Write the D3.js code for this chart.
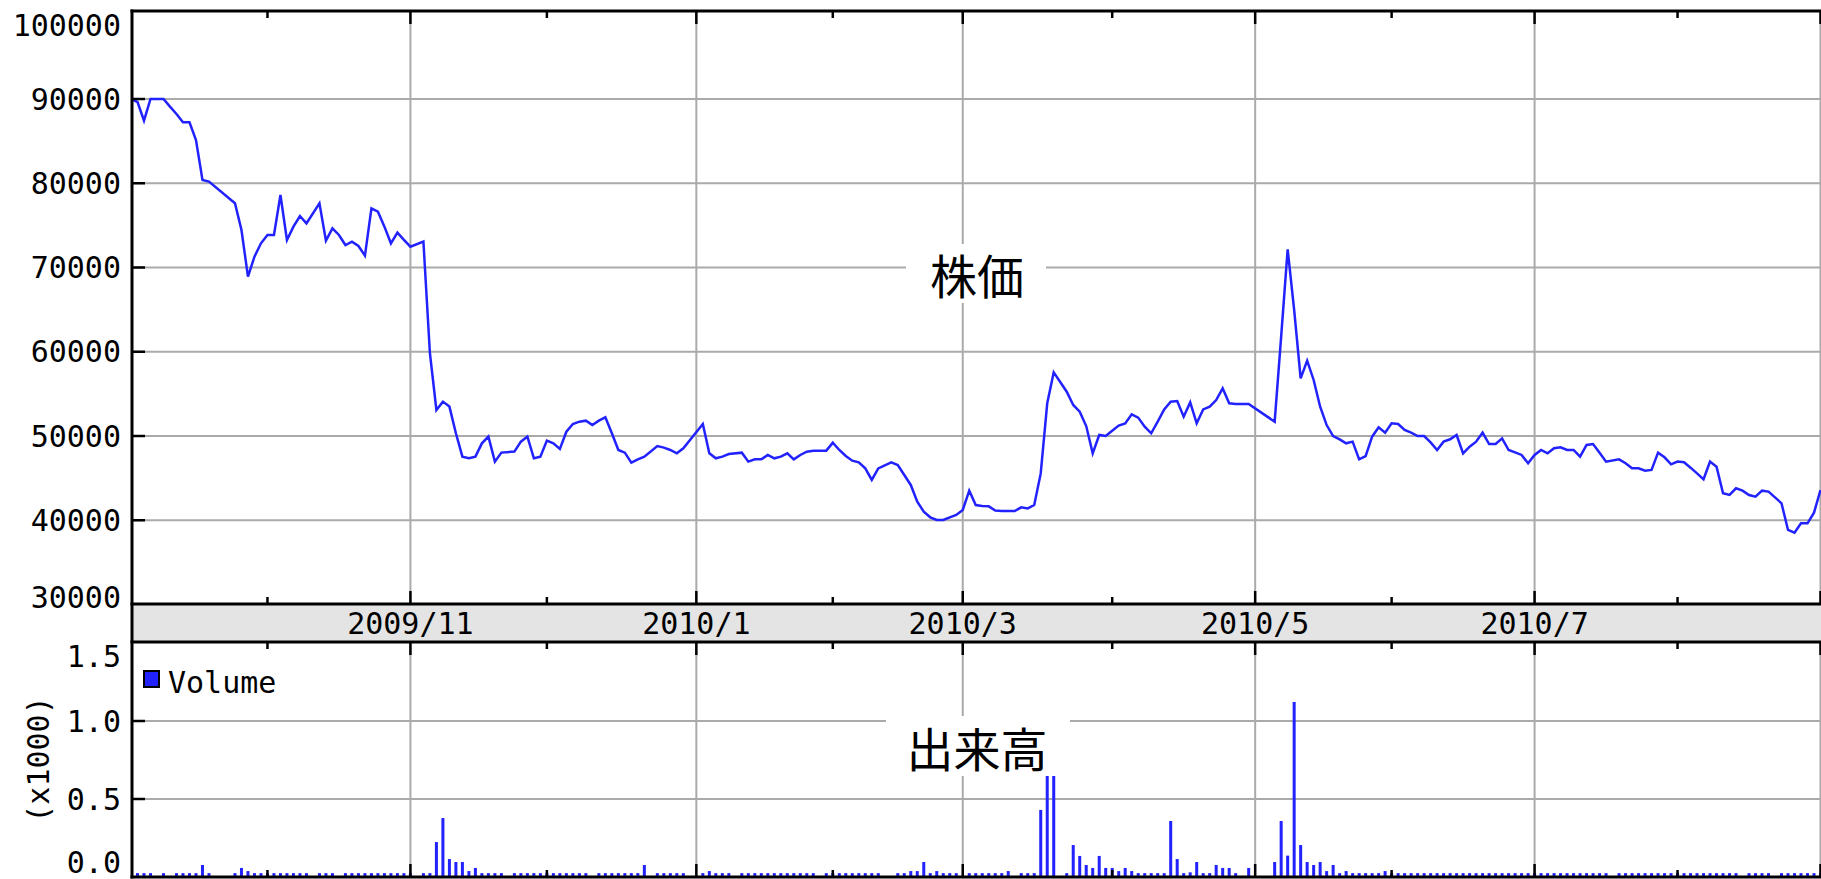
<!DOCTYPE html>
<html>
<head>
<meta charset="utf-8">
<script src="https://cdn.jsdelivr.net/npm/d3@7"></script>
<style>
  html, body { margin: 0; padding: 0; background: #fff; overflow: hidden; }
  svg { display: block; }
</style>
</head>
<body>
<div id="chart"></div>
<script>
// Trading calendar: weekdays from startDate to endDate, minus exchange holidays
const startDate = "2009-09-02";
const endDate = "2010-09-01";
const holidays = [
    "2009-09-21", "2009-09-22", "2009-09-23", "2009-10-12", "2009-11-03",
    "2009-11-23", "2009-12-23", "2009-12-31", "2010-01-01", "2010-01-11",
    "2010-02-11", "2010-03-22", "2010-04-29", "2010-05-03", "2010-05-04",
    "2010-05-05", "2010-07-19"
];

// Closing price per trading day (one row per week)
const priceValues = [
    90000, 89640, 87430,
    90000, 90000, 90000, 89090, 88220,
    87230, 87230, 85130, 80390, 80190,
    77620, 74450,
    68910, 71290, 72870, 73860, 73860,
    78610, 73270, 74850, 76110, 75240,
    77620, 73190, 74650, 73860,
    72670, 73070, 72550, 71410, 77020,
    76630, 74850, 72870, 74140, 73270,
    72470, 73070, 59820, 53090,
    54080, 53490, 50320, 47550, 47360,
    47550, 49130, 49930, 46960, 48030,
    48150, 49330, 49930, 47360,
    47550, 49450, 49130, 48460, 50510,
    51420, 51700, 51820, 51300, 51820,
    52220, 50320, 48340, 48020, 46840,
    47230, 47550, 48810, 48620,
    48340, 47940, 48540,
    51420, 47940, 47350, 47550, 47860,
    48020, 46960, 47230, 47230,
    47750, 47350, 47550, 47940, 47230,
    47750, 48140, 48260, 48260, 48260,
    49210, 48340, 47630, 47070, 46880,
    46160, 44780, 46160, 46880,
    46560, 45370, 44190, 42210, 41020,
    40350, 40030, 40030, 40350, 40630,
    41220, 43510, 41810, 41690, 41650,
    41150, 41100, 41100, 41100, 41530,
    41410, 41810, 45560, 53880, 57560,
    55260, 53680, 52890, 51180,
    47940, 50120, 50000, 50630, 51230,
    51500, 52570, 52180, 51110, 50320,
    51700, 53160, 54070, 54150, 52290,
    53990, 51500, 53160, 53480, 54270,
    55660, 53880, 53800, 53800,
    51700, 61790,
    72160, 64960, 56840, 58940, 56650,
    53480, 51300, 49990, 49600, 49130,
    49330, 47230, 47620, 49920, 51030,
    50390, 51500, 51420, 50710, 50390,
    50000, 50000, 49250, 48340, 49330,
    49610, 50120, 47940, 48730, 49330,
    50400, 49050, 49050, 49720, 48340,
    48060, 47750, 46760, 47750, 48340,
    47940, 48540, 48660, 48340, 48340,
    47550, 48930, 49050, 48020, 46950,
    47230, 46760, 46160, 46160,
    45890, 45970, 48020, 47470, 46640,
    46960, 46880, 46240, 45570, 44860,
    46960, 46360, 43200, 43000, 43790,
    43510, 43000, 42800, 43510, 43400,
    42720, 42010, 38850, 38530, 39640,
    39640, 40900, 43590
];

// Volume (shares) per trading day, same layout as priceValues
const volumeValues = [
    25, 25, 25,
    25, 0, 25, 0, 25,
    25, 25, 25, 77, 25,
    25, 58,
    38, 25, 25, 25, 25,
    25, 25, 25, 25, 25,
    25, 25, 25, 0,
    25, 25, 25, 25, 25,
    25, 25, 25, 25, 25,
    25, 25, 25, 224,
    378, 115, 96, 96, 38,
    58, 25, 25, 25, 25,
    25, 25, 25, 25,
    25, 25, 25, 25, 25,
    25, 25, 25, 0, 25,
    25, 25, 25, 25, 25,
    25, 77, 25, 25,
    25, 25, 25,
    25, 38, 25, 25, 25,
    25, 25, 25, 25,
    25, 25, 25, 25, 25,
    25, 25, 25, 0, 25,
    25, 25, 25, 25, 25,
    25, 25, 25, 0,
    25, 25, 38, 38, 96,
    25, 38, 25, 25, 25,
    0, 25, 25, 25, 25,
    25, 25, 38, 0, 25,
    25, 25, 430, 700, 720,
    25, 205, 135, 77,
    58, 135, 58, 58, 38,
    58, 38, 25, 25, 25,
    25, 25, 359, 115, 25,
    30, 96, 25, 25, 77,
    58, 58, 25, 58,
    96, 359,
    137, 1122, 205, 96, 77,
    96, 38, 77, 25, 38,
    25, 25, 25, 25, 25,
    38, 25, 25, 25, 25,
    25, 25, 25, 25, 25,
    25, 25, 25, 25, 25,
    25, 25, 25, 25, 25,
    25, 25, 25, 25, 25,
    25, 25, 25, 25, 25,
    25, 25, 25, 25, 25,
    25, 25, 25, 25,
    25, 25, 25, 25, 25,
    25, 25, 25, 25, 25,
    25, 25, 25, 25, 25,
    0, 25, 25, 25, 25,
    0, 25, 25, 25, 25,
    25, 25, 25
];

const priceTicks = [30000, 40000, 50000, 60000, 70000, 80000, 90000, 100000];
const priceGrid = [40000, 50000, 60000, 70000, 80000, 90000];
const volumeTicks = [0, 500, 1000, 1500];
const volumeGrid = [500, 1000];
const minorMonths = ["2009-10-01", "2009-12-01", "2010-02-01", "2010-04-01", "2010-06-01", "2010-08-01"];
const majorMonths = ["2009-11-01", "2010-01-01", "2010-03-01", "2010-05-01", "2010-07-01", "2010-09-01"];
const majorLabels = ["2009/11", "2010/1", "2010/3", "2010/5", "2010/7", ""];

// Layout
const W = 1821, H = 879;
const left = 132, right = 1821;
const priceTop = 11, priceBottom = 604;
const volTop = 642, volBottom = 877;
const blue = "#2222ff", grid = "#aaaaaa";
const mono = "'DejaVu Sans Mono', monospace";

const parse = d3.timeParse("%Y-%m-%d");
const fmt = d3.timeFormat("%Y-%m-%d");

// weekday index axis (weekends removed)
const weekdays = d3.timeDay
    .range(parse(startDate), d3.timeDay.offset(parse(endDate), 1))
    .filter((d) => d.getDay() !== 0 && d.getDay() !== 6);
const holidaySet = new Set(holidays);
const tradingIdx = [];
weekdays.forEach((d, i) => { if (!holidaySet.has(fmt(d))) tradingIdx.push(i); });

const n = Math.min(tradingIdx.length, priceValues.length, volumeValues.length);
const data = d3.range(n).map((k) => ({ i: tradingIdx[k], p: priceValues[k], v: volumeValues[k] }));

const firstWeekday = (s) => {
    const t = parse(s);
    const i = weekdays.findIndex((d) => d >= t);
    return i < 0 ? weekdays.length - 1 : i;
};

const x = d3.scaleLinear().domain([0, weekdays.length - 1]).range([131, 1820.5]);
const yPrice = d3.scaleLinear().domain([30000, 100000]).range([604.5, 14.75]);
const yVol = d3.scaleLinear().domain([0, 1500]).range([volBottom, 643]);

const svg = d3.select("#chart").append("svg")
    .attr("width", W).attr("height", H)
    .style("background", "#fff");

const defs = svg.append("defs");
defs.append("clipPath").attr("id", "clipPrice")
    .append("rect").attr("x", left).attr("y", priceTop).attr("width", right - left).attr("height", priceBottom - priceTop);
defs.append("clipPath").attr("id", "clipVol")
    .append("rect").attr("x", left).attr("y", volTop).attr("width", right - left).attr("height", volBottom - volTop);

// gridlines
const gridLayer = svg.append("g");
gridLayer.selectAll(".gp").data(priceGrid).join("line")
    .attr("x1", left).attr("x2", right)
    .attr("y1", (d) => yPrice(d)).attr("y2", (d) => yPrice(d))
    .attr("stroke", grid).attr("stroke-width", 2);
gridLayer.selectAll(".gv").data(volumeGrid).join("line")
    .attr("x1", left).attr("x2", right)
    .attr("y1", (d) => yVol(d)).attr("y2", (d) => yVol(d))
    .attr("stroke", grid).attr("stroke-width", 2);
majorMonths.forEach((m) => {
    const xm = x(firstWeekday(m));
    [[priceTop, priceBottom], [volTop, volBottom]].forEach(([a, b]) => {
        gridLayer.append("line")
            .attr("x1", xm).attr("x2", xm).attr("y1", a).attr("y2", b)
            .attr("stroke", grid).attr("stroke-width", 2);
    });
});

// price line
svg.append("g").attr("clip-path", "url(#clipPrice)")
    .append("path")
    .datum(data)
    .attr("fill", "none")
    .attr("stroke", blue)
    .attr("stroke-width", 2.5)
    .attr("d", d3.line().x((d) => x(d.i)).y((d) => yPrice(d.p)));

// volume bars
svg.append("g").attr("clip-path", "url(#clipVol)")
    .selectAll("rect")
    .data(data.filter((d) => d.v > 0))
    .join("rect")
    .attr("x", (d) => x(d.i) - 1.5)
    .attr("width", 3)
    .attr("y", (d) => yVol(d.v))
    .attr("height", (d) => volBottom - yVol(d.v))
    .attr("fill", blue);

// titles on white boxes
const titles = [
    { text: "株価", cy: 273.5, box: [906, 244, 140, 59] },
    { text: "出来高", cy: 746, box: [886, 716, 184, 60] }
];
titles.forEach((t) => {
    svg.append("rect")
        .attr("x", t.box[0]).attr("y", t.box[1])
        .attr("width", t.box[2]).attr("height", t.box[3])
        .attr("fill", "#fff");
    svg.append("text")
        .attr("x", 977).attr("y", t.cy)
        .attr("text-anchor", "middle")
        .attr("dominant-baseline", "central")
        .style("font-family", "'Noto Sans CJK JP', sans-serif")
        .style("font-size", "47px")
        .attr("fill", "#000")
        .text(t.text);
});

// date band
svg.append("rect")
    .attr("x", left).attr("y", priceBottom)
    .attr("width", right - left).attr("height", volTop - priceBottom)
    .attr("fill", "#e4e4e4");
majorMonths.forEach((m, k) => {
    svg.append("text")
        .attr("x", x(firstWeekday(m))).attr("y", 623)
        .attr("text-anchor", "middle")
        .attr("dominant-baseline", "central")
        .style("font-family", mono).style("font-size", "30px")
        .text(majorLabels[k]);
});

// frame
const frame = svg.append("g").attr("stroke", "#000").attr("stroke-width", 3);
[priceTop, priceBottom, volTop, volBottom].forEach((yy) => {
    frame.append("line").attr("x1", left - 1.5).attr("x2", right).attr("y1", yy).attr("y2", yy);
});
frame.append("line").attr("x1", left).attr("x2", left).attr("y1", priceTop - 1.5).attr("y2", volBottom + 1.5);

// y ticks
const ticks = svg.append("g").attr("stroke", "#000").attr("stroke-width", 2.5);
priceGrid.forEach((v) => {
    ticks.append("line").attr("x1", left).attr("x2", left + 13).attr("y1", yPrice(v)).attr("y2", yPrice(v));
});
volumeGrid.forEach((v) => {
    ticks.append("line").attr("x1", left).attr("x2", left + 13).attr("y1", yVol(v)).attr("y2", yVol(v));
});

// month ticks, major long and minor short, on each horizontal edge
const monthTicks = majorMonths.map((m) => ({ m, len: 13 })).concat(minorMonths.map((m) => ({ m, len: 7 })));
monthTicks.forEach((t) => {
    const xm = x(firstWeekday(t.m));
    [[priceTop, 1], [priceBottom, -1], [volTop, 1], [volBottom, -1]].forEach(([yy, dir]) => {
        ticks.append("line").attr("x1", xm).attr("x2", xm)
            .attr("y1", yy).attr("y2", yy + dir * t.len);
    });
});

// y tick labels, kept inside each panel
const clamp = (v, a, b) => Math.max(a, Math.min(b, v));
svg.append("g").selectAll("text").data(priceTicks).join("text")
    .attr("x", 121)
    .attr("y", (d) => clamp(yPrice(d), priceTop + 14, priceBottom - 7))
    .attr("text-anchor", "end")
    .attr("dominant-baseline", "central")
    .style("font-family", mono).style("font-size", "30px")
    .text((d) => d);
svg.append("g").selectAll("text").data(volumeTicks).join("text")
    .attr("x", 121)
    .attr("y", (d) => clamp(yVol(d), volTop + 14, volBottom - 15))
    .attr("text-anchor", "end")
    .attr("dominant-baseline", "central")
    .style("font-family", mono).style("font-size", "30px")
    .text((d) => d3.format(".1f")(d / 1000));

svg.append("g")
    .attr("transform", `translate(38, ${(volTop + volBottom) / 2})`)
    .append("text")
    .attr("transform", "rotate(-90)")
    .attr("text-anchor", "middle")
    .attr("dominant-baseline", "central")
    .style("font-family", mono).style("font-size", "30px")
    .text("(x1000)");

// legend
svg.append("rect")
    .attr("x", 144).attr("y", 671).attr("width", 15).attr("height", 16)
    .attr("fill", blue).attr("stroke", "#000").attr("stroke-width", 2);
svg.append("text")
    .attr("x", 168).attr("y", 682)
    .attr("dominant-baseline", "central")
    .style("font-family", mono).style("font-size", "30px")
    .text("Volume");
</script>
</body>
</html>
